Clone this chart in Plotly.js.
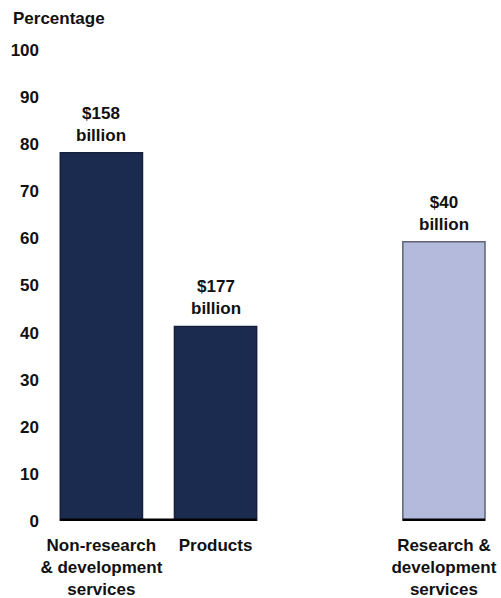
<!DOCTYPE html>
<html>
<head>
<meta charset="utf-8">
<script src="https://cdn.plot.ly/plotly-3.0.1.min.js"></script>
<style>html,body{margin:0;padding:0;background:#fff;}#chart{width:501px;height:598px;}</style>
</head>
<body>
<div id="chart"></div>
<script>
// Data
const categories = ["Non-research<br>& development<br>services", "Products", "Research &<br>development<br>services"];
const positions = [0, 1, 3];
const percentages = [78.2, 41.3, 59.3];
const barLabels = ["$158<br>billion", "$177<br>billion", "$40<br>billion"];
const barColors = ["#1b2a4f", "#1b2a4f", "#b4badc"];
const barEdges = ["#16213d", "#16213d", "#5f6374"];
const yTicks = [0, 10, 20, 30, 40, 50, 60, 70, 80, 90, 100];

const barWidth = 0.72;
const fontFam = "Liberation Sans, Arial, sans-serif";
const fs = 17;

// baseline segments: merge adjacent bars
const segs = [];
positions.forEach((p) => {
  const last = segs[segs.length - 1];
  if (last && p - last.end === 1) last.end = p; else segs.push({start: p, end: p});
});
const shapes = segs.map(s => ({
  type: 'line', xref: 'x', yref: 'y',
  x0: s.start - barWidth / 2, x1: s.end + barWidth / 2, y0: 0, y1: 0,
  line: {color: '#000', width: 5}
}));

const trace = {
  type: 'bar',
  x: positions,
  y: percentages,
  width: barWidth,
  marker: {color: barColors, line: {color: barEdges, width: 1.5}},
  hoverinfo: 'none'
};

const labelAnns = positions.map((p, i) => ({
  x: p, y: percentages[i], xref: 'x', yref: 'y',
  text: barLabels[i], showarrow: false, xanchor: 'center', yanchor: 'bottom', yshift: 6,
  font: {family: fontFam, size: fs, color: '#111', weight: 'bold'}
}));

const layout = {
  width: 501, height: 598,
  margin: {l: 50, r: 0, t: 50, b: 77},
  paper_bgcolor: '#fff', plot_bgcolor: '#fff',
  showlegend: false,
  font: {family: fontFam, size: fs, color: '#111'},
  xaxis: {
    range: [-0.45, 3.5],
    tickvals: positions, ticktext: categories,
    showgrid: false, zeroline: false, showline: false, ticks: '',
    tickfont: {family: fontFam, size: fs, color: '#111', weight: 'bold'},
    ticklabelstandoff: 12
  },
  yaxis: {
    range: [0, 100],
    tickvals: yTicks,
    showgrid: false, zeroline: false, showline: false, ticks: '',
    tickfont: {family: fontFam, size: fs, color: '#111', weight: 'bold'},
    ticklabelstandoff: 10
  },
  shapes: shapes,
  annotations: labelAnns.concat([{
    text: 'Percentage', xref: 'paper', yref: 'paper', x: -0.087, y: 1.0, yshift: 32,
    xanchor: 'left', yanchor: 'middle', showarrow: false,
    font: {family: fontFam, size: fs, color: '#111', weight: 'bold'}
  }])
};

Plotly.newPlot('chart', [trace], layout, {displayModeBar: false, staticPlot: true});
</script>
</body>
</html>
